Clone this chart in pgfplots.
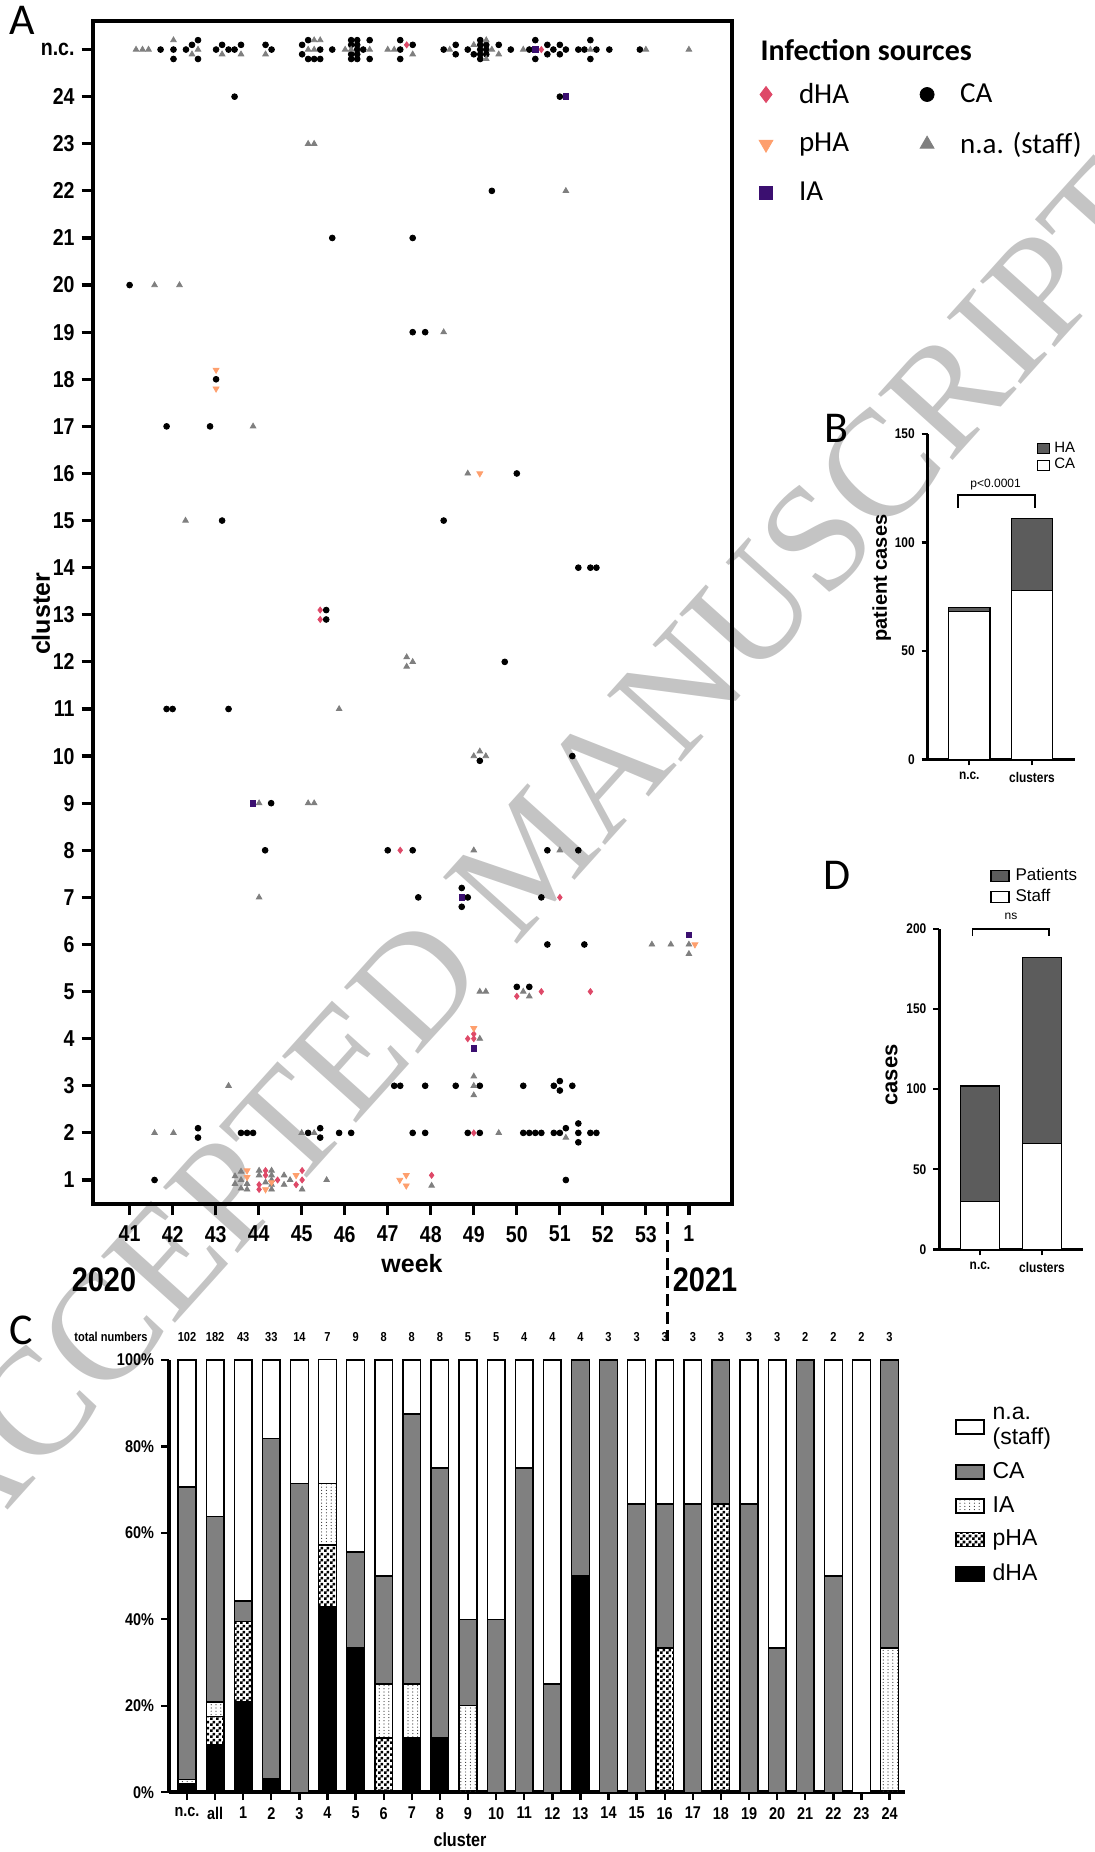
\documentclass[border=0pt]{standalone}
\usepackage{pgfplots}
\pgfplotsset{compat=1.18}
\usepackage{pgfplotstable}
\usetikzlibrary{patterns}
\usepackage{fontspec}
\setmainfont{Liberation Sans}
\newfontfamily\narrow[FakeStretch=0.85]{Liberation Sans}
\newfontfamily\calib{Carlito}
\newfontfamily\wmfont{Liberation Serif}
\definecolor{dha}{HTML}{DE4968}
\definecolor{pha}{HTML}{FE9F6D}
\definecolor{ia}{HTML}{3B0F70}
\definecolor{nagray}{HTML}{7F7F7F}
\definecolor{cagray}{HTML}{808080}
\definecolor{hagray}{HTML}{5C5C5C}
\definecolor{wmgray}{HTML}{C4C4C4}

\pgfdeclarepatternformonly{mycheck}{\pgfpointorigin}{\pgfqpoint{3pt}{3pt}}{\pgfqpoint{3pt}{3pt}}{%
  \pgfpathrectangle{\pgfpointorigin}{\pgfqpoint{1.5pt}{1.5pt}}%
  \pgfpathrectangle{\pgfqpoint{1.5pt}{1.5pt}}{\pgfqpoint{1.5pt}{1.5pt}}%
  \pgfusepath{fill}}
\pgfdeclarepatternformonly{mydots}{\pgfqpoint{-0.5pt}{-0.5pt}}{\pgfqpoint{0.5pt}{0.5pt}}{\pgfqpoint{2.4pt}{1.6pt}}{%
  \pgfpathcircle{\pgfpointorigin}{0.3pt}\pgfusepath{fill}}

\tikzset{totnum/.style={font=\narrow\bfseries\fontsize{6.5}{7}\selectfont, yshift=11.5pt}}

\pgfplotstableread{
x dha pha ia ca na
0 1.96 0 0.98 67.65 29.41
1 10.99 6.59 3.30 42.86 36.26
2 20.93 18.60 0 4.65 55.81
3 3.03 0 0 78.79 18.18
4 0 0 0 71.43 28.57
5 42.86 14.29 14.29 0 28.57
6 33.33 0 0 22.22 44.44
7 0 12.5 12.5 25 50
8 12.5 0 12.5 62.5 12.5
9 12.5 0 0 62.5 25
10 0 0 20 20 60
11 0 0 0 40 60
12 0 0 0 75 25
13 0 0 0 25 75
14 50 0 0 50 0
15 0 0 0 100 0
16 0 0 0 66.67 33.33
17 0 33.33 0 33.33 33.33
18 0 0 0 66.67 33.33
19 0 66.67 0 33.33 0
20 0 0 0 66.67 33.33
21 0 0 0 33.33 66.67
22 0 0 0 100 0
23 0 0 0 50 50
24 0 0 0 0 100
25 0 0 33.33 66.67 0
}\tabC

\begin{document}
\begin{tikzpicture}
\useasboundingbox (0pt,0pt) rectangle (547pt,-926pt);
% watermark
\node[rotate=48, text=wmgray, font=\wmfont\fontsize{76}{76}\selectfont, inner sep=0pt] at (265pt,-428pt) {ACCEPTED MANUSCRIPT};

% panel letters
\node[font=\calib\fontsize{22}{22}\selectfont] at (11pt,-10.3pt) {A};
\node[font=\calib\fontsize{22}{22}\selectfont] at (418pt,-214pt) {B};
\node[font=\calib\fontsize{22}{22}\selectfont] at (10.5pt,-665pt) {C};
\node[font=\calib\fontsize{22}{22}\selectfont] at (418.5pt,-437.5pt) {D};

% ================= Panel A =================
\begin{axis}[
  at={(46.3pt,-602pt)}, anchor=south west,
  scale only axis, width=319.45pt, height=591.35pt,
  xmin=40.14, xmax=54.99, ymin=0.49, ymax=25.6,
  clip=false,
  axis line style={line width=2pt},
  xtick={41,42,43,44,45,46,47,48,49,50,51,52,53,54},
  xticklabels={41,42,43,44,45,46,47,48,49,50,51,52,53,1},
  ytick={1,2,3,4,5,6,7,8,9,10,11,12,13,14,15,16,17,18,19,20,21,22,23,24,25},
  yticklabels={1,2,3,4,5,6,7,8,9,10,11,12,13,14,15,16,17,18,19,20,21,22,23,24,n.c.},
  xtick pos=left, ytick pos=left, tick align=outside,
  major tick length=5.5pt,
  tick style={line width=1.6pt, black},
  ticklabel style={font=\narrow\bfseries\fontsize{11.5}{13}\selectfont},
  xticklabel style={yshift=-2pt},
  legend columns=2, legend cell align=left,
  legend image code/.code={\path[draw=none, fill=none] (0pt,-4pt) rectangle (20.5pt,4pt); \draw[#1, mark repeat=1] plot coordinates {(6pt,0pt)};},
  legend style={at={(1.0346,0.9516)}, anchor=north west, draw=none, fill=none, inner sep=0pt,
    font=\calib\fontsize{14.5}{16}\selectfont, row sep=9pt,
    /tikz/every even column/.append style={column sep=31pt}},
]
\addlegendimage{only marks, mark=diamond*, mark size=4pt, color=dha}
\addlegendentry{dHA}
\addlegendimage{only marks, mark=*, mark size=3.5pt, color=black}
\addlegendentry{CA}
\addlegendimage{only marks, mark=triangle*, mark size=4pt, color=pha, mark options={rotate=180}}
\addlegendentry{pHA}
\addlegendimage{only marks, mark=triangle*, mark size=4pt, color=nagray}
\addlegendentry{n.a. (staff)}
\addlegendimage{only marks, mark=square*, mark size=3.2pt, color=ia}
\addlegendentry{IA}

% CA circles
\addplot[only marks, mark=*, mark size=1.45pt, color=black, forget plot] coordinates {
(41.72,25)(42.02,25)(42.02,24.8)(42.31,25)(42.45,25.1)(42.59,25.2)(42.59,24.8)(43.01,25)(43.15,25.1)(43.30,25)(43.44,25)(43.59,25.1)(44.16,25.1)(44.30,25)
(45.01,25.1)(45.01,24.9)(45.15,25.2)(45.15,24.8)(45.29,24.8)(45.43,25.0)(45.43,24.8)
(45.71,25)
(46.15,25.2)(46.15,25.1)(46.15,24.9)(46.15,24.8)(46.29,25.2)(46.29,25.1)(46.29,25)(46.29,24.9)(46.29,24.8)(46.43,25)(46.58,25.2)(46.58,24.8)
(47.29,25.2)(47.29,25)(47.29,24.8)(47.58,25.1)
(48.30,25)(48.58,25.1)(48.58,24.9)(48.86,25)(49.00,24.9)
(49.15,25.2)(49.15,25.1)(49.15,25)(49.15,24.9)(49.15,24.8)(49.29,25.1)(49.29,25)(49.29,24.9)
(49.58,25.1)(49.86,25)(50.29,25)(50.43,25.2)(50.43,24.8)(50.71,25.1)(50.71,24.9)(50.85,25)(51.00,25.1)(51.00,24.9)(51.14,25)
(51.43,25)(51.57,25)(51.71,25.2)(51.71,24.8)(51.85,25)(52.15,25)(52.86,25)
(43.44,24)(51.00,24)
(49.42,22)
(45.71,21)(47.58,21)
(41.00,20)
(47.58,19)(47.87,19)
(43.01,18)
(41.86,17)(42.87,17)
(50.00,16)
(43.15,15)(48.30,15)
(51.43,14)(51.71,14)(51.85,14)
(45.57,13.1)(45.57,12.9)
(49.72,12)
(41.86,11)(42.00,11)(43.30,11)
(49.14,9.9)(51.29,10)
(44.29,9)
(44.15,8)(47.00,8)(47.58,8)(50.71,8)(51.43,8)
(47.71,7)(48.72,7.2)(48.72,6.8)(48.86,7)(50.57,7)
(50.71,6)(51.57,6)
(50.00,5.1)(50.29,5.1)
(47.15,3)(47.29,3)(47.87,3)(48.58,3)(49.14,3)(50.15,3)(50.86,3)(51.00,3.1)(51.00,2.9)(51.29,3)
(42.59,2.1)(42.59,1.9)(43.59,2)(43.73,2)(43.87,2)(45.15,2)(45.43,2.1)(45.43,1.9)(45.87,2)(46.15,2)(47.58,2)(47.87,2)(48.86,2)(49.14,2)(50.15,2)(50.29,2)(50.43,2)(50.57,2)(50.86,2)(51.00,2)(51.14,2.1)(51.43,2.2)(51.43,2.0)(51.43,1.8)(51.71,2)(51.85,2)
(41.58,1)(51.14,1)
};
% n.a. (staff) triangles
\addplot[only marks, mark=triangle*, mark size=1.6pt, color=nagray, forget plot] coordinates {
(41.15,25)(41.30,25)(41.44,25)(42.02,25.2)(42.45,24.9)(42.59,25)(43.15,24.9)(43.59,24.9)(44.16,24.9)(45.15,25)(45.29,25.2)(45.29,25)(45.43,25.2)(46.01,25)(46.15,25)(46.58,25)(47.00,25)(47.15,25)(47.58,24.9)(48.44,25)(49.00,25.1)(49.29,25.2)(49.29,24.8)(49.42,25)(49.58,24.9)(50.15,25)(51.71,25)(53.00,25)(54.00,25)
(45.15,23)(45.29,23)(51.14,22)(41.58,20)(42.16,20)(48.30,19)(43.87,17)(48.86,16)(42.30,15)(47.44,12.1)(47.44,11.9)(47.58,12)(45.87,11)(49.00,10)(49.14,10.1)(49.28,10)(44.01,9)(45.15,9)(45.29,9)(49.00,8)(51.00,8)(44.01,7)(53.14,6)(53.58,6)(54.00,6)(54.00,5.8)(49.14,5)(49.28,5)(50.15,5)(50.29,4.9)(49.14,4)(43.30,3)(49.00,3.2)(49.00,3.0)(49.00,2.8)
(41.58,2)(42.02,2)(45.00,2)(45.29,2)(49.58,2)(51.14,1.9)
(43.45,1.08)(43.45,0.92)(43.59,1.18)(43.59,1.0)(43.59,0.82)(43.73,0.92)(43.73,0.8)(44.01,1.2)(44.01,1.1)(44.30,1.2)(44.30,1.1)(44.30,1.0)(44.30,0.9)(44.30,0.8)(44.16,0.95)(44.59,1.1)(44.59,0.9)(44.73,1.0)(45.01,0.8)(45.58,1.0)(48.02,0.88)
};
% dHA diamonds
\addplot[only marks, mark=diamond*, mark size=1.5pt, color=dha, forget plot] coordinates {
(47.44,25.1)(50.57,25)(45.43,13.1)(45.43,12.9)(47.29,8)(51.00,7)(50.00,4.9)(50.57,5)(51.71,5)(48.86,4)(49.00,4.1)(49.00,4.0)(49.00,2)
(44.01,0.9)(44.01,0.8)(44.16,1.2)(44.16,1.1)(44.44,1.0)(44.87,0.9)(45.01,1.2)(45.01,1.0)(48.02,1.1)
};
% pHA triangles down
\addplot[only marks, mark=triangle*, mark size=1.7pt, color=pha, mark options={rotate=180}, forget plot] coordinates {
(43.01,18.2)(43.01,17.8)(49.14,16)(54.14,6)(49.00,4.22)
(43.73,1.2)(43.73,1.06)(44.16,0.8)(44.30,0.95)(44.87,1.1)(47.28,1.0)(47.43,1.1)(47.43,0.88)
};
% IA squares
\addplot[only marks, mark=square*, mark size=1.4pt, color=ia, forget plot] coordinates {
(50.43,25)(51.14,24)(43.87,9)(48.72,7)(54.00,6.2)(49.00,3.8)
};
\draw[line width=1.5pt, dash pattern=on 6pt off 3pt] (axis cs:53.5,0.49) -- ++(0pt,-68.5pt);
\end{axis}
\node[anchor=west, font=\calib\bfseries\fontsize{15}{16}\selectfont] at (376.8pt,-24.8pt) {Infection sources};
\node[font=\bfseries\fontsize{12.5}{14}\selectfont] at (206pt,-632pt) {week};
\node[rotate=90, font=\bfseries\fontsize{12.5}{14}\selectfont] at (20.5pt,-307pt) {cluster};
\node[font=\narrow\bfseries\fontsize{17}{18}\selectfont] at (52pt,-639.75pt) {2020};
\node[font=\narrow\bfseries\fontsize{17}{18}\selectfont] at (352.5pt,-639.75pt) {2021};

% ================= Panel B =================
\begin{axis}[
  at={(463.85pt,-379.65pt)}, anchor=south west, scale only axis,
  width=73.65pt, height=162.65pt,
  axis lines=left, axis line style={line width=1.5pt, -},
  xmin=-0.663, xmax=1.686, ymin=0, ymax=150,
  ytick={0,50,100,150}, xtick={0,1}, xticklabels={n.c.,clusters},
  ybar stacked, bar width=0.66,
  tick style={line width=1.2pt, black}, major tick length=3pt, tick align=outside,
  ticklabel style={font=\narrow\bfseries\fontsize{7}{8}\selectfont},
  /pgf/number format/assume math mode=true,
  clip=false, reverse legend, legend cell align=left,
  legend image code/.code={\draw[#1, line width=0.6pt] (0pt,-2.5pt) rectangle (6pt,2.5pt);},
  legend style={at={(0.74,0.981)}, anchor=north west, draw=none, fill=none, inner sep=0pt,
    font=\fontsize{7.5}{8}\selectfont, row sep=0.5pt, nodes={inner ysep=0.6pt, inner xsep=2pt}},
]
\addplot[fill=white, draw=black, line width=0.6pt] coordinates {(0,68) (1,78)};
\addlegendentry{CA}
\addplot[fill=hagray, draw=black, line width=0.6pt] coordinates {(0,2) (1,33)};
\addlegendentry{HA}
\draw[line width=0.9pt] (axis cs:-0.175,116) -- (axis cs:-0.175,122) -- (axis cs:1.05,122) -- (axis cs:1.05,116);
\node[font=\fontsize{6}{7}\selectfont] at (axis cs:0.42,126.5) {p<0.0001};
\end{axis}
\node[rotate=90, font=\bfseries\fontsize{10}{11}\selectfont] at (440.85pt,-289pt) {patient cases};

% ================= Panel D =================
\begin{axis}[
  at={(469.65pt,-624.65pt)}, anchor=south west, scale only axis,
  width=72pt, height=160.15pt,
  axis lines=left, axis line style={line width=1.5pt, -},
  xmin=-0.656, xmax=1.666, ymin=0, ymax=200,
  ytick={0,50,100,150,200}, xtick={0,1}, xticklabels={n.c.,clusters},
  ybar stacked, bar width=0.64,
  tick style={line width=1.2pt, black}, major tick length=3pt, tick align=outside,
  ticklabel style={font=\narrow\bfseries\fontsize{7}{8}\selectfont},
  /pgf/number format/assume math mode=true,
  clip=false, reverse legend, legend cell align=left,
  legend image code/.code={\draw[#1, line width=0.6pt] (0pt,-2.75pt) rectangle (9pt,2.75pt);},
  legend style={at={(0.352,1.198)}, anchor=north west, draw=none, fill=none, inner sep=0pt,
    font=\fontsize{8.5}{9}\selectfont, row sep=1pt, nodes={inner ysep=1pt, inner xsep=3pt}},
]
\addplot[fill=white, draw=black, line width=0.6pt] coordinates {(0,30) (1,66)};
\addlegendentry{Staff}
\addplot[fill=hagray, draw=black, line width=0.6pt] coordinates {(0,72) (1,116)};
\addlegendentry{Patients}
\draw[line width=0.9pt] (axis cs:-0.12,195.5) -- (axis cs:-0.12,200) -- (axis cs:1.11,200) -- (axis cs:1.11,195.5);
\node[font=\fontsize{6}{7}\selectfont] at (axis cs:0.5,208) {ns};
\end{axis}
\node[rotate=90, font=\bfseries\fontsize{11}{12}\selectfont] at (445.8pt,-537.5pt) {cases};

% ================= Panel C =================
\begin{axis}[
  at={(84.5pt,-896.1pt)}, anchor=south west, scale only axis,
  width=368pt, height=216.2pt,
  axis lines=left, axis line style={line width=1.8pt, -},
  xmin=-0.64, xmax=25.55, ymin=0, ymax=100,
  ybar stacked, bar width=0.63,
  xtick={0,...,25},
  xticklabels={n.c.,all,1,2,3,4,5,6,7,8,9,10,11,12,13,14,15,16,17,18,19,20,21,22,23,24},
  ytick={0,20,40,60,80,100},
  yticklabels={0\%,20\%,40\%,60\%,80\%,100\%},
  tick style={line width=1.2pt, black}, major tick length=4pt, tick align=outside,
  ticklabel style={font=\narrow\bfseries\fontsize{8.5}{9}\selectfont},
  yticklabel style={font=\narrow\bfseries\fontsize{8.5}{9}\selectfont},
  clip=false, reverse legend, legend cell align=left,
  legend image code/.code={\draw[#1, line width=0.8pt] (0pt,-3.5pt) rectangle (14pt,3.5pt);},
  legend style={at={(1.0674,0.899)}, anchor=north west, draw=none, fill=none, inner sep=0pt,
    font=\fontsize{11.5}{12.5}\selectfont, row sep=4.5pt, nodes={inner ysep=1.5pt, inner xsep=4pt},
    cells={align=left}},
]
\addplot[fill=black, draw=black, line width=0.7pt] table[x=x, y=dha] {\tabC};
\addlegendentry{dHA}
\addplot[pattern=mycheck, pattern color=black, draw=black, line width=0.7pt] table[x=x, y=pha] {\tabC};
\addlegendentry{pHA}
\addplot[pattern=mydots, pattern color=black!80, draw=black, line width=0.7pt] table[x=x, y=ia] {\tabC};
\addlegendentry{IA}
\addplot[fill=cagray, draw=black, line width=0.7pt] table[x=x, y=ca] {\tabC};
\addlegendentry{CA}
\addplot[fill=white, draw=black, line width=0.7pt] table[x=x, y=na] {\tabC};
\addlegendentry{n.a.\\(staff)}
\foreach \i/\n in {0/102,1/182,2/43,3/33,4/14,5/7,6/9,7/8,8/8,9/8,10/5,11/5,12/4,13/4,14/4,15/3,16/3,17/3,18/3,19/3,20/3,21/3,22/2,23/2,24/2,25/3}{
  \edef\tmp{\noexpand\node[totnum] at (axis cs:\i,100) {\n};}\tmp
}
\end{axis}
\node[font=\narrow\bfseries\fontsize{6.5}{7}\selectfont] at (55.5pt,-668.5pt) {total numbers};
\node[font=\narrow\bfseries\fontsize{9.5}{10}\selectfont] at (230pt,-920pt) {cluster};
\end{tikzpicture}
\end{document}
